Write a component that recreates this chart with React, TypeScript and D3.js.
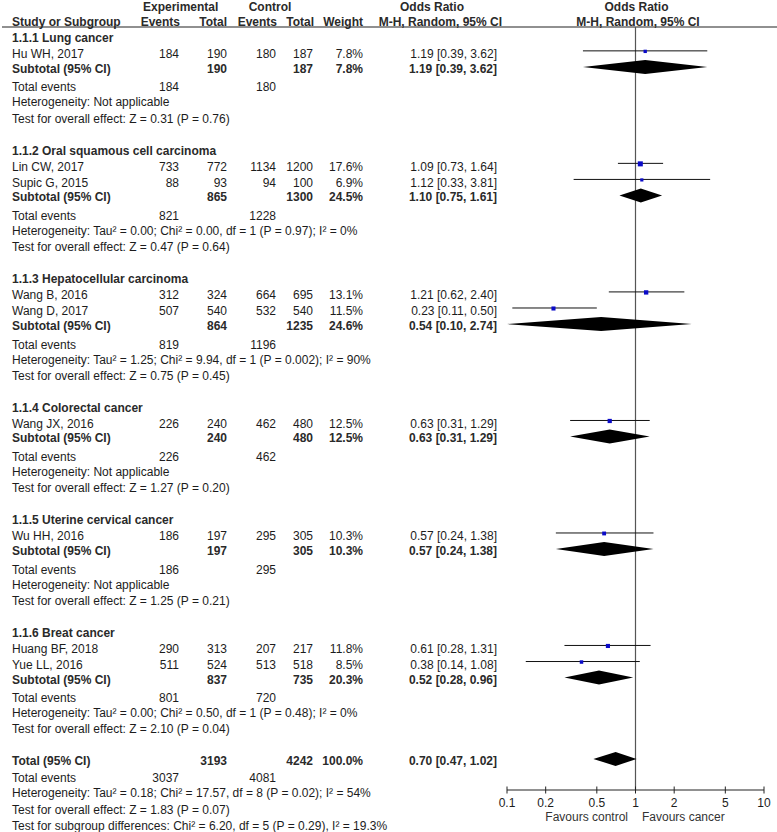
import React from "react";
import * as d3 from "d3";

// ---- Data ----
const subgroupNames = [
  "1.1.1 Lung cancer",
  "1.1.2 Oral squamous cell carcinoma",
  "1.1.3 Hepatocellular carcinoma",
  "1.1.4 Colorectal cancer",
  "1.1.5 Uterine cervical cancer",
  "1.1.6 Breat cancer",
];
const studyNames = [
  "Hu WH, 2017",
  "Lin CW, 2017",
  "Supic G, 2015",
  "Wang B, 2016",
  "Wang D, 2017",
  "Wang JX, 2016",
  "Wu HH, 2016",
  "Huang BF, 2018",
  "Yue LL, 2016",
];
const studyGroup = [0, 1, 1, 2, 2, 3, 4, 5, 5];
const expEvents = [184, 733, 88, 312, 507, 226, 186, 290, 511];
const expTotals = [190, 772, 93, 324, 540, 240, 197, 313, 524];
const ctrlEvents = [180, 1134, 94, 664, 532, 462, 295, 207, 513];
const ctrlTotals = [187, 1200, 100, 695, 540, 480, 305, 217, 518];
const studyWeights = [7.8, 17.6, 6.9, 13.1, 11.5, 12.5, 10.3, 11.8, 8.5];
const studyOR = [1.19, 1.09, 1.12, 1.21, 0.23, 0.63, 0.57, 0.61, 0.38];
const studyLow = [0.39, 0.73, 0.33, 0.62, 0.11, 0.31, 0.24, 0.28, 0.14];
const studyHigh = [3.62, 1.64, 3.81, 2.4, 0.5, 1.29, 1.38, 1.31, 1.08];

const subExpTotals = [190, 865, 864, 240, 197, 837];
const subCtrlTotals = [187, 1300, 1235, 480, 305, 735];
const subExpEvents = [184, 821, 819, 226, 186, 801];
const subCtrlEvents = [180, 1228, 1196, 462, 295, 720];
const subWeights = [7.8, 24.5, 24.6, 12.5, 10.3, 20.3];
const subOR = [1.19, 1.1, 0.54, 0.63, 0.57, 0.52];
const subLow = [0.39, 0.75, 0.1, 0.31, 0.24, 0.28];
const subHigh = [3.62, 1.61, 2.74, 1.29, 1.38, 0.96];
const subHeterogeneity = [
  "Heterogeneity: Not applicable",
  "Heterogeneity: Tau² = 0.00; Chi² = 0.00, df = 1 (P = 0.97); I² = 0%",
  "Heterogeneity: Tau² = 1.25; Chi² = 9.94, df = 1 (P = 0.002); I² = 90%",
  "Heterogeneity: Not applicable",
  "Heterogeneity: Not applicable",
  "Heterogeneity: Tau² = 0.00; Chi² = 0.50, df = 1 (P = 0.48); I² = 0%",
];
const subEffect = [
  "Test for overall effect: Z = 0.31 (P = 0.76)",
  "Test for overall effect: Z = 0.47 (P = 0.64)",
  "Test for overall effect: Z = 0.75 (P = 0.45)",
  "Test for overall effect: Z = 1.27 (P = 0.20)",
  "Test for overall effect: Z = 1.25 (P = 0.21)",
  "Test for overall effect: Z = 2.10 (P = 0.04)",
];

const totalExp = 3193;
const totalCtrl = 4242;
const totalWeight = 100.0;
const totalExpEvents = 3037;
const totalCtrlEvents = 4081;
const totalOR = [0.7, 0.47, 1.02];
const totalTexts = [
  "Heterogeneity: Tau² = 0.18; Chi² = 17.57, df = 8 (P = 0.02); I² = 54%",
  "Test for overall effect: Z = 1.83 (P = 0.07)",
  "Test for subgroup differences: Chi² = 6.20, df = 5 (P = 0.29), I² = 19.3%",
];
const axisTicks = [0.1, 0.2, 0.5, 1, 2, 5, 10];
const favoursLeft = "Favours control";
const favoursRight = "Favours cancer";

// ---- Layout ----
const W = 777;
const H = 832;
const FONT = "'Liberation Sans', Arial, Helvetica, sans-serif";
const TXT = "#1c1c1c";
const BLUE = "#0a0ac8";

const xCol = {
  name: 12,
  expEv: 179,
  expTot: 227,
  ctrlEv: 276,
  ctrlTot: 313,
  weight: 363,
  or: 497,
};

type Row =
  | { kind: "group"; g: number }
  | { kind: "study"; s: number }
  | { kind: "subtotal"; g: number }
  | { kind: "events"; e: number; c: number }
  | { kind: "text"; t: string }
  | { kind: "total" };

const rows: Row[] = [];
subgroupNames.forEach((_, g) => {
  rows.push({ kind: "group", g });
  studyNames.forEach((_, s) => {
    if (studyGroup[s] === g) rows.push({ kind: "study", s });
  });
  rows.push({ kind: "subtotal", g });
  rows.push({ kind: "events", e: subExpEvents[g], c: subCtrlEvents[g] });
  rows.push({ kind: "text", t: subHeterogeneity[g] });
  rows.push({ kind: "text", t: subEffect[g] });
  rows.push({ kind: "text", t: "" });
});
rows.push({ kind: "total" });
rows.push({ kind: "events", e: totalExpEvents, c: totalCtrlEvents });
totalTexts.forEach((t) => rows.push({ kind: "text", t }));

const yRow = d3
  .scaleLinear()
  .domain([0, rows.length - 1])
  .range([37.8, 37.8 + (rows.length - 1) * 16.07]);

const x = d3.scaleLog().domain([0.1, 10]).range([507, 764]);
const AXIS_Y = 790;

const fmt = (v: number) => v.toFixed(2);
const ciText = (o: number, l: number, h: number) => `${fmt(o)} [${fmt(l)}, ${fmt(h)}]`;
const pct = (w: number) => `${w.toFixed(1)}%`;

function Diamond({ o, l, h, cy }: { o: number; l: number; h: number; cy: number }) {
  const hh = 7;
  const path = d3.line()([
    [x(l), cy],
    [x(o), cy - hh],
    [x(h), cy],
    [x(o), cy + hh],
  ]) + "Z";
  return <path d={path} fill="#000" stroke="none" />;
}

export default function App() {
  const elems: React.ReactNode[] = [];
  const T = (
    key: string,
    xx: number,
    yy: number,
    s: string,
    opts: { bold?: boolean; anchor?: string } = {}
  ) => (
    <text
      key={key}
      x={xx}
      y={yy}
      textAnchor={(opts.anchor as any) || "start"}
      fontWeight={opts.bold ? "bold" : "normal"}
      fill={opts.bold ? "#2a2a2a" : TXT}
    >
      {s}
    </text>
  );

  rows.forEach((r, i) => {
    const cy = yRow(i);
    const by = cy + 4.4;
    if (r.kind === "group") {
      elems.push(T(`g${i}`, xCol.name, by, subgroupNames[r.g], { bold: true }));
    } else if (r.kind === "study") {
      const s = r.s;
      elems.push(T(`n${i}`, xCol.name, by, studyNames[s]));
      elems.push(T(`a${i}`, xCol.expEv, by, String(expEvents[s]), { anchor: "end" }));
      elems.push(T(`b${i}`, xCol.expTot, by, String(expTotals[s]), { anchor: "end" }));
      elems.push(T(`c${i}`, xCol.ctrlEv, by, String(ctrlEvents[s]), { anchor: "end" }));
      elems.push(T(`d${i}`, xCol.ctrlTot, by, String(ctrlTotals[s]), { anchor: "end" }));
      elems.push(T(`w${i}`, xCol.weight, by, pct(studyWeights[s]), { anchor: "end" }));
      elems.push(
        T(`o${i}`, xCol.or, by, ciText(studyOR[s], studyLow[s], studyHigh[s]), { anchor: "end" })
      );
      const ly = cy - 3;
      const lo = Math.max(studyLow[s], 0.1);
      const hi = Math.min(studyHigh[s], 10);
      elems.push(
        <line key={`ci${i}`} x1={x(lo)} x2={x(hi)} y1={ly} y2={ly} stroke="#111" strokeWidth={1} />
      );
      const sz = 1.2 * Math.sqrt(studyWeights[s]);
      elems.push(
        <rect
          key={`sq${i}`}
          x={x(studyOR[s]) - sz / 2}
          y={ly - sz / 2 + 0.5}
          width={sz}
          height={sz}
          fill={BLUE}
        />
      );
    } else if (r.kind === "subtotal") {
      const g = r.g;
      const yy = by - 1.5;
      elems.push(T(`n${i}`, xCol.name, yy, "Subtotal (95% CI)", { bold: true }));
      elems.push(T(`b${i}`, xCol.expTot, yy, String(subExpTotals[g]), { anchor: "end", bold: true }));
      elems.push(T(`d${i}`, xCol.ctrlTot, yy, String(subCtrlTotals[g]), { anchor: "end", bold: true }));
      elems.push(T(`w${i}`, xCol.weight, yy, pct(subWeights[g]), { anchor: "end", bold: true }));
      elems.push(
        T(`o${i}`, xCol.or, yy, ciText(subOR[g], subLow[g], subHigh[g]), { anchor: "end", bold: true })
      );
      elems.push(<Diamond key={`dm${i}`} o={subOR[g]} l={subLow[g]} h={subHigh[g]} cy={cy - 3} />);
    } else if (r.kind === "events") {
      const yy = by + 1;
      elems.push(T(`n${i}`, xCol.name, yy, "Total events"));
      elems.push(T(`a${i}`, xCol.expEv, yy, String(r.e), { anchor: "end" }));
      elems.push(T(`c${i}`, xCol.ctrlEv, yy, String(r.c), { anchor: "end" }));
    } else if (r.kind === "text") {
      if (r.t) elems.push(T(`t${i}`, xCol.name, by, r.t));
    } else if (r.kind === "total") {
      elems.push(T(`n${i}`, xCol.name, by, "Total (95% CI)", { bold: true }));
      elems.push(T(`b${i}`, xCol.expTot, by, String(totalExp), { anchor: "end", bold: true }));
      elems.push(T(`d${i}`, xCol.ctrlTot, by, String(totalCtrl), { anchor: "end", bold: true }));
      elems.push(T(`w${i}`, xCol.weight, by, pct(totalWeight), { anchor: "end", bold: true }));
      elems.push(
        T(`o${i}`, xCol.or, by, ciText(totalOR[0], totalOR[1], totalOR[2]), { anchor: "end", bold: true })
      );
      elems.push(<Diamond key={`dm${i}`} o={totalOR[0]} l={totalOR[1]} h={totalOR[2]} cy={cy - 2} />);
    }
  });

  return (
    <svg
      width={W}
      height={H}
      style={{ position: "absolute", left: 0, top: 0, background: "#fff" }}
      fontFamily={FONT}
      fontSize={12}
    >
      {/* header */}
      <g fontWeight="bold" fill="#2a2a2a">
        <text x={143} y={11} textAnchor="start">Experimental</text>
        <text x={270} y={11} textAnchor="middle">Control</text>
        <text x={432} y={11} textAnchor="middle">Odds Ratio</text>
        <text x={636.5} y={11} textAnchor="middle">Odds Ratio</text>
        <text x={xCol.name} y={25.5}>Study or Subgroup</text>
        <text x={180} y={25.5} textAnchor="end">Events</text>
        <text x={227} y={25.5} textAnchor="end">Total</text>
        <text x={277} y={25.5} textAnchor="end">Events</text>
        <text x={314} y={25.5} textAnchor="end">Total</text>
        <text x={363} y={25.5} textAnchor="end">Weight</text>
        <text x={502} y={25.5} textAnchor="end">M-H, Random, 95% CI</text>
        <text x={638} y={25.5} textAnchor="middle">M-H, Random, 95% CI</text>
      </g>
      <line x1={2} x2={W} y1={27} y2={27} stroke="#222" strokeWidth={1.2} />

      {/* null line */}
      <line x1={x(1)} x2={x(1)} y1={27} y2={AXIS_Y} stroke="#555" strokeWidth={1.2} />

      {elems}

      {/* axis */}
      <line x1={x(0.1)} x2={x(10)} y1={AXIS_Y} y2={AXIS_Y} stroke="#222" strokeWidth={1} />
      {axisTicks.map((t) => (
        <g key={`tk${t}`}>
          <line x1={x(t)} x2={x(t)} y1={AXIS_Y - 3.5} y2={AXIS_Y + 3.5} stroke="#222" strokeWidth={1} />
          <text x={x(t)} y={AXIS_Y + 17} textAnchor="middle" fill={TXT}>
            {String(t)}
          </text>
        </g>
      ))}
      <text x={628} y={821} textAnchor="end" fill="#333">{favoursLeft}</text>
      <text x={642} y={821} textAnchor="start" fill="#333">{favoursRight}</text>
    </svg>
  );
}
